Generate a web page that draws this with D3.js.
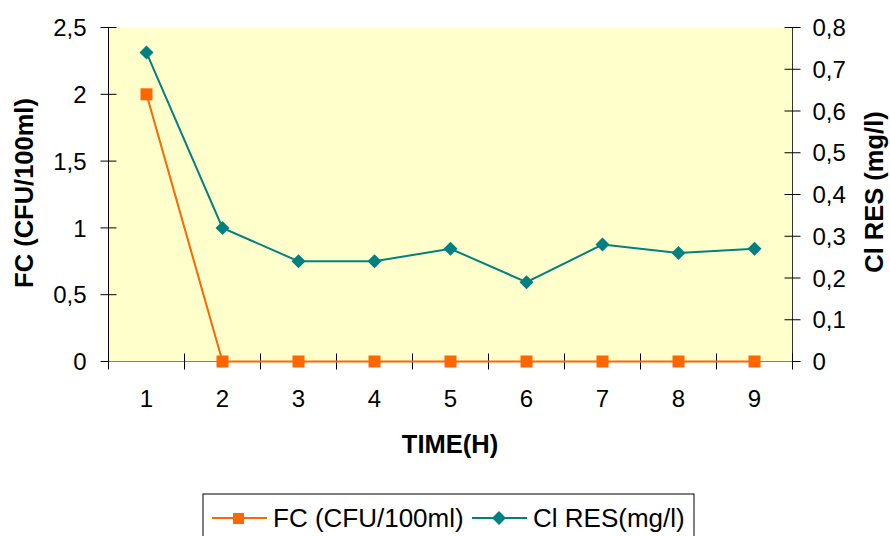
<!DOCTYPE html>
<html>
<head>
<meta charset="utf-8">
<script src="https://cdn.jsdelivr.net/npm/d3@7"></script>
<style>
  html, body { margin: 0; padding: 0; background: #fff; }
  svg { display: block; font-family: "Liberation Sans", Arial, sans-serif; }
</style>
</head>
<body>
<svg id="chart" width="890" height="536"></svg>
<script>
// Time points (hours)
const hours = ["1", "2", "3", "4", "5", "6", "7", "8", "9"];
// Faecal coliforms, CFU/100ml (left axis)
const fc = [2, 0, 0, 0, 0, 0, 0, 0, 0];
// Residual chlorine, mg/l (right axis)
const clRes = [0.74, 0.32, 0.24, 0.24, 0.27, 0.19, 0.28, 0.26, 0.27];
// Axis tick values and labels
const leftTicks = [0, 0.5, 1, 1.5, 2, 2.5];
const rightTicks = [0, 0.1, 0.2, 0.3, 0.4, 0.5, 0.6, 0.7, 0.8];

const svg = d3.select("#chart");
const plot = { left: 108.5, right: 792.5, top: 27.5, bottom: 361.5 };
const labelSize = 24, titleSize = 25.5, legendSize = 26;

const x = d3.scaleBand().domain(hours).range([plot.left, plot.right]);
const xBoundaries = d3.scaleLinear().domain([0, hours.length]).range([plot.left, plot.right]);
const yL = d3.scaleLinear().domain([0, 2.5]).range([plot.bottom, plot.top]);
const yR = d3.scaleLinear().domain([0, 0.8]).range([plot.bottom, plot.top]);
const fmt = d => String(+d.toFixed(2)).replace(".", ",");

// Plot background
svg.append("rect")
  .attr("x", plot.left).attr("y", plot.top)
  .attr("width", plot.right - plot.left).attr("height", plot.bottom - plot.top)
  .attr("fill", "#FFFFCC");

const tickStroke = "#000";

// Left axis
const gL = svg.append("g").attr("transform", `translate(${plot.left},0)`);
gL.append("line").attr("x1", 0).attr("x2", 0).attr("y1", plot.top).attr("y2", plot.bottom)
  .attr("stroke", "#000").attr("stroke-width", 1);
leftTicks.forEach(t => {
  gL.append("line").attr("x1", -8).attr("x2", 8).attr("y1", yL(t)).attr("y2", yL(t))
    .attr("stroke", tickStroke).attr("stroke-width", 1);
  gL.append("text").attr("x", -22).attr("y", yL(t)).attr("dy", "0.36em")
    .attr("text-anchor", "end").attr("font-size", labelSize).attr("fill", "#000").text(fmt(t));
});

// Right axis
const gR = svg.append("g").attr("transform", `translate(${plot.right},0)`);
gR.append("line").attr("x1", 0).attr("x2", 0).attr("y1", plot.top).attr("y2", plot.bottom)
  .attr("stroke", "#333").attr("stroke-width", 1);
rightTicks.forEach(t => {
  gR.append("line").attr("x1", -8).attr("x2", 8).attr("y1", yR(t)).attr("y2", yR(t))
    .attr("stroke", tickStroke).attr("stroke-width", 1);
  gR.append("text").attr("x", 20).attr("y", yR(t)).attr("dy", "0.36em")
    .attr("text-anchor", "start").attr("font-size", labelSize).attr("fill", "#000").text(fmt(t));
});

// Bottom axis with ticks between categories
const gB = svg.append("g");
gB.append("line").attr("x1", plot.left).attr("x2", plot.right).attr("y1", plot.bottom).attr("y2", plot.bottom)
  .attr("stroke", "#808080").attr("stroke-width", 1);
d3.range(hours.length + 1).forEach(i => {
  gB.append("line").attr("x1", xBoundaries(i)).attr("x2", xBoundaries(i))
    .attr("y1", plot.bottom - 8).attr("y2", plot.bottom + 8)
    .attr("stroke", tickStroke).attr("stroke-width", 1);
});
hours.forEach(h => {
  gB.append("text").attr("x", x(h) + x.bandwidth() / 2).attr("y", 398).attr("dy", "0.36em")
    .attr("text-anchor", "middle").attr("font-size", labelSize).attr("fill", "#000").text(h);
});

// Axis titles
svg.append("text").attr("x", 450).attr("y", 444).attr("dy", "0.36em")
  .attr("text-anchor", "middle").attr("font-size", titleSize).attr("font-weight", "bold").text("TIME(H)");
svg.append("text").attr("transform", `translate(24,193) rotate(-90)`)
  .attr("dy", "0.36em").attr("text-anchor", "middle").attr("font-size", titleSize).attr("font-weight", "bold")
  .text("FC (CFU/100ml)");
svg.append("text").attr("transform", `translate(874,192) rotate(-90)`)
  .attr("dy", "0.36em").attr("text-anchor", "middle").attr("font-size", titleSize).attr("font-weight", "bold")
  .text("Cl RES (mg/l)");

const cx = i => x(hours[i]) + x.bandwidth() / 2;
const orange = "#FF6600", teal = "#008080";

// FC series
svg.append("path").datum(fc)
  .attr("d", d3.line().x((d, i) => cx(i)).y(d => yL(d)))
  .attr("fill", "none").attr("stroke", orange).attr("stroke-width", 2);
svg.selectAll(".fcpt").data(fc).enter().append("rect")
  .attr("x", (d, i) => cx(i) - 6).attr("y", d => yL(d) - 6)
  .attr("width", 12).attr("height", 12).attr("fill", orange);

// Residual chlorine series
svg.append("path").datum(clRes)
  .attr("d", d3.line().x((d, i) => cx(i)).y(d => yR(d)))
  .attr("fill", "none").attr("stroke", teal).attr("stroke-width", 2);
svg.selectAll(".clpt").data(clRes).enter().append("path")
  .attr("transform", (d, i) => `translate(${cx(i)},${yR(d)})`)
  .attr("d", "M0,-7L7,0L0,7L-7,0Z").attr("fill", teal);

// Legend
const lg = svg.append("g");
lg.append("rect").attr("x", 203).attr("y", 494).attr("width", 491).attr("height", 50)
  .attr("fill", "#fff").attr("stroke", "#000").attr("stroke-width", 1);
lg.append("line").attr("x1", 212).attr("x2", 267).attr("y1", 518).attr("y2", 518)
  .attr("stroke", orange).attr("stroke-width", 2);
lg.append("rect").attr("x", 233).attr("y", 513).attr("width", 11).attr("height", 11).attr("fill", orange);
lg.append("text").attr("x", 273).attr("y", 518).attr("dy", "0.36em").attr("font-size", legendSize)
  .text("FC (CFU/100ml)");
lg.append("line").attr("x1", 472).attr("x2", 527).attr("y1", 518).attr("y2", 518)
  .attr("stroke", teal).attr("stroke-width", 2);
lg.append("path").attr("transform", "translate(499,518)").attr("d", "M0,-7L7,0L0,7L-7,0Z").attr("fill", teal);
lg.append("text").attr("x", 533).attr("y", 518).attr("dy", "0.36em").attr("font-size", legendSize)
  .text("Cl RES(mg/l)");
</script>
</body>
</html>
